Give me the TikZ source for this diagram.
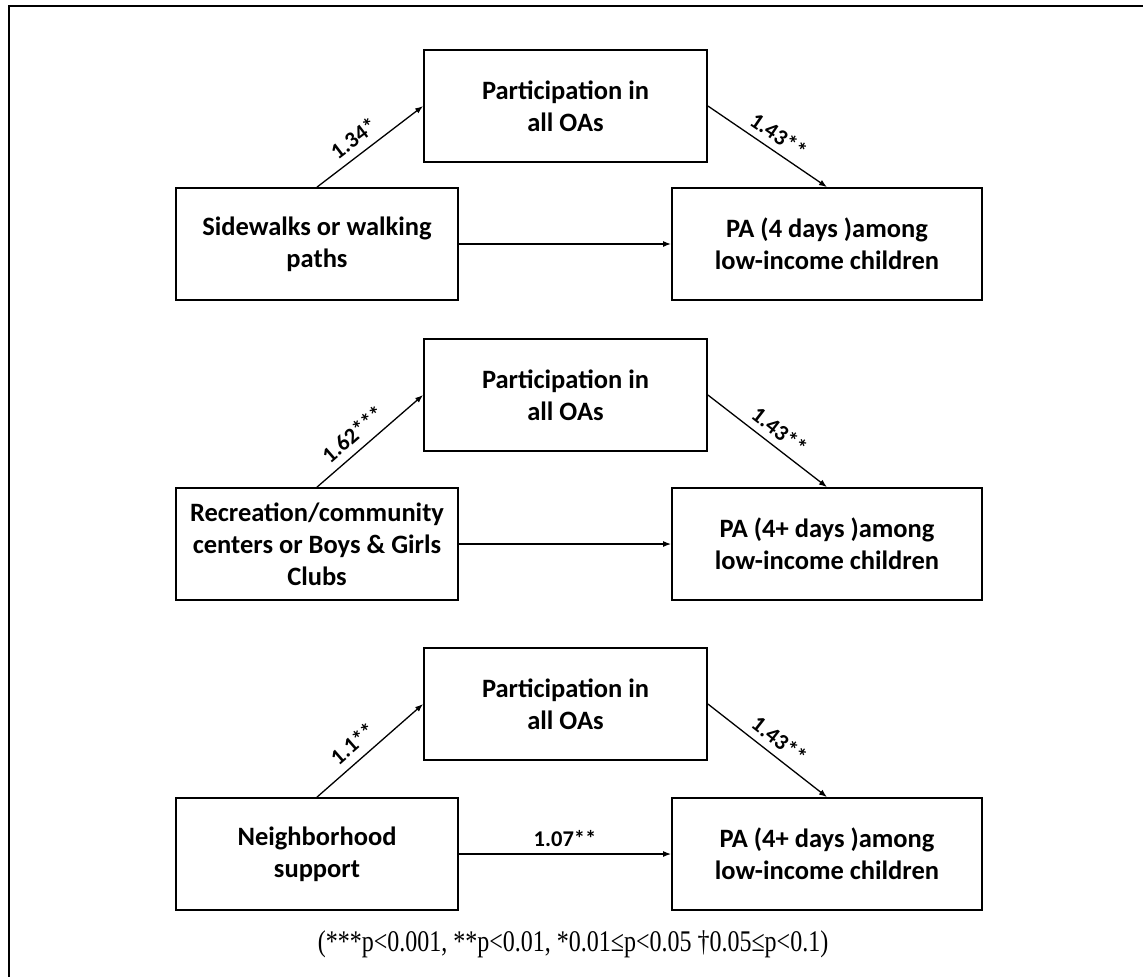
\documentclass[tikz,border=0pt]{standalone}
\usepackage{fontspec}
\setmainfont{Carlito}
\newfontfamily\notefont{Liberation Serif}
\usetikzlibrary{arrows.meta}

\begin{document}
\begin{tikzpicture}[x=1pt,y=-1pt,
  box/.style={draw, line width=1.8pt, inner sep=0pt, minimum height=112pt,
    minimum width=#1, align=center,
    font=\fontsize{26.5}{32}\selectfont\bfseries},
  arr/.style={line width=1.3pt, -{Latex[length=8pt,width=6pt]}},
  lbl/.style={font=\fontsize{22.5}{26}\selectfont\bfseries, inner sep=2pt},
  diag/.style={lbl, sloped, above=6pt, pos=0.44},
  diagR/.style={lbl, sloped, above=5pt, pos=0.52}]

\useasboundingbox (0,0) rectangle (1143,977);
% frame
\draw[line width=2.6pt] (9,977) -- (9,6) -- (1143,6);

% first model
\node[box=282pt] (L1) at (317,244) {Sidewalks or walking\\paths};
\node[box=283pt] (P1) at (565.5,106) {Participation in\\all OAs};
\node[box=310pt] (O1) at (827,244) {PA (4 days )among\\low-income children};
\draw[arr] (L1.north) -- node[diag] {1.34*} (P1.west);
\draw[arr] (P1.east) -- node[diagR] {1.43**} (O1.north);
\draw[arr] (L1.east) -- (O1.west);

% second model
\node[box=282pt] (L2) at (317,544) {Recreation/community\\centers or Boys \& Girls\\Clubs};
\node[box=283pt] (P2) at (565.5,395) {Participation in\\all OAs};
\node[box=310pt] (O2) at (827,544) {PA (4+ days )among\\low-income children};
\draw[arr] (L2.north) -- node[diag] {1.62***} (P2.west);
\draw[arr] (P2.east) -- node[diagR] {1.43**} (O2.north);
\draw[arr] (L2.east) -- (O2.west);

% third model
\node[box=282pt] (L3) at (317,854) {Neighborhood\\support};
\node[box=283pt] (P3) at (565.5,704) {Participation in\\all OAs};
\node[box=310pt] (O3) at (827,854) {PA (4+ days )among\\low-income children};
\draw[arr] (L3.north) -- node[diag] {1.1**} (P3.west);
\draw[arr] (P3.east) -- node[diagR] {1.43**} (O3.north);
\draw[arr] (L3.east) -- node[lbl, above, inner sep=7pt] {1.07**} (O3.west);

% significance legend
\node (note) at (573,944) {\notefont\fontsize{30}{36}\selectfont\scalebox{0.8}[1]{(***p<0.001, **p<0.01, *0.01≤p<0.05 †0.05≤p<0.1)}};
\end{tikzpicture}
\end{document}
